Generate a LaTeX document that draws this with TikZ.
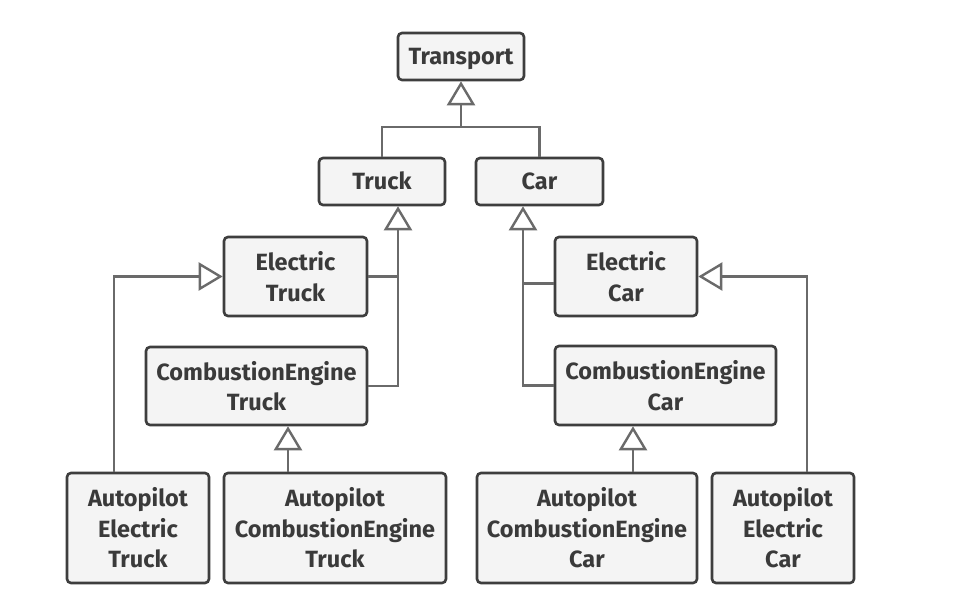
\documentclass[tikz,border=0pt]{standalone}
\usepackage{fontspec}
\setmainfont{Fira Sans}
\usetikzlibrary{arrows.meta,calc}
\definecolor{boxfill}{HTML}{F4F4F4}
\definecolor{boxline}{HTML}{3E3E3E}
\definecolor{conn}{HTML}{6A6A6A}
\definecolor{txt}{HTML}{3A3A3A}
\begin{document}
\begin{tikzpicture}[x=1pt,y=-1pt,
  cls/.style={draw=boxline, fill=boxfill, line width=2.6pt, rounded corners=4pt,
    align=center, inner sep=0pt, text=txt, font=\fontsize{23.5}{30.5}\selectfont\bfseries},
  one/.style={text height=16.2pt, text depth=0pt},
  gen/.style={draw=conn, line width=2.4pt, -{Triangle[open, length=24pt, width=28pt, line width=2.4pt]}},
  ln/.style={draw=conn, line width=2.4pt}]
\useasboundingbox (0,0) rectangle (976,615);
\fill[white] (0,0) rectangle (976,615);
\node[cls, one, minimum width=126, minimum height=47] (T) at (461,56.5) {Transport};
\node[cls, one, minimum width=126, minimum height=47] (Tr) at (382,181.5) {Truck};
\node[cls, one, minimum width=127, minimum height=47] (C) at (539.5,181.5) {Car};
\node[cls, minimum width=143, minimum height=79] (ET) at (295.5,276.5) {Electric\\Truck};
\node[cls, minimum width=221, minimum height=78] (CET) at (256.5,386) {CombustionEngine\\Truck};
\node[cls, minimum width=142, minimum height=79] (EC) at (626,276.5) {Electric\\Car};
\node[cls, minimum width=221, minimum height=79] (CEC) at (665.5,385.5) {CombustionEngine\\Car};
\node[cls, minimum width=142, minimum height=110] (AET) at (138,528) {Autopilot\\Electric\\Truck};
\node[cls, minimum width=222, minimum height=110] (ACET) at (335,528) {Autopilot\\CombustionEngine\\Truck};
\node[cls, minimum width=220, minimum height=110] (ACEC) at (587,528) {Autopilot\\CombustionEngine\\Car};
\node[cls, minimum width=142, minimum height=110] (AEC) at (783,528) {Autopilot\\Electric\\Car};
% Transport
\coordinate (j0) at (461,127);
\draw[ln] (Tr.north) |- (j0);
\draw[ln] (C.north) |- (j0);
\draw[gen] (j0) -- (T.south);
% Truck
\coordinate (trs) at ([xshift=16]Tr.south);
\draw[gen] (CET.east) -| (trs);
\draw[ln] (ET.east) -- (ET.east -| trs);
% Car
\coordinate (cs) at ([xshift=-16.5]C.south);
\draw[gen] (CEC.west) -| (cs);
\draw[ln] ([yshift=-7]EC.west) -- ([yshift=-7]EC.west -| cs);
% Autopilots
\draw[gen] ([xshift=-24]AET.north) |- (ET.west);
\draw[gen] ([xshift=-47]ACET.north) -- ([xshift=-47]ACET.north |- CET.south);
\draw[gen] ([xshift=46]ACEC.north) -- ([xshift=46]ACEC.north |- CEC.south);
\draw[gen] ([xshift=24]AEC.north) |- (EC.east);
\end{tikzpicture}
\end{document}
